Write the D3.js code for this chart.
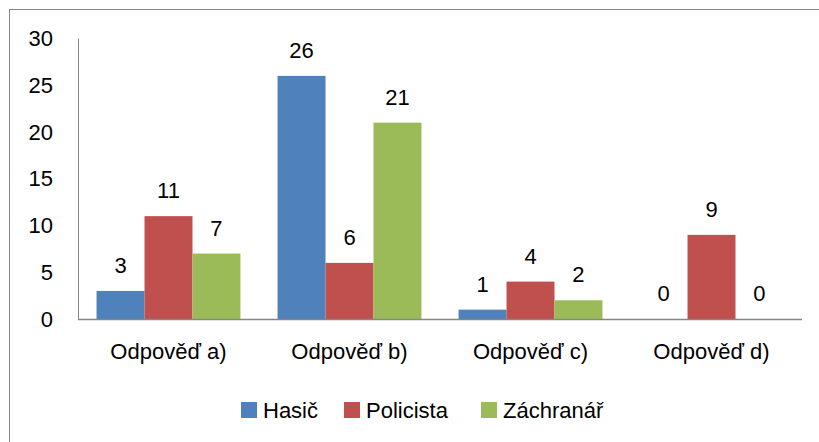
<!DOCTYPE html>
<html lang="cs">
<head>
  <meta charset="utf-8">
  <title>Odpovědi</title>
  <script src="https://d3js.org/d3.v7.min.js"></script>
  <style>
    body { margin: 0; background: #fff; }
    text { font-family: "Liberation Sans", Arial, sans-serif; font-size: 22px; fill: #000; }
  </style>
</head>
<body>
  <div id="chart"></div>
  <script>
    var categories = ["Odpověď a)", "Odpověď b)", "Odpověď c)", "Odpověď d)"];
    var series = ["Hasič", "Policista", "Záchranář"];
    var hasic = [3, 26, 1, 0];
    var policista = [11, 6, 4, 9];
    var zachranar = [7, 21, 2, 0];
    var yTicks = [0, 5, 10, 15, 20, 25, 30];
    var colors = ["#4F81BD", "#C0504D", "#9BBB59"];

    var values = [hasic, policista, zachranar];
    var w = 819, h = 442;
    var plotLeft = 78, plotRight = 802, plotTop = 38.5, plotBottom = 319;

    var svg = d3.select("#chart").append("svg")
      .attr("width", w).attr("height", h);

    // outer chart frame
    svg.append("rect")
      .attr("x", 9.5).attr("y", 9.5)
      .attr("width", 830).attr("height", 450)
      .attr("fill", "none").attr("stroke", "#868686");

    var x0 = d3.scaleBand().domain(categories).range([plotLeft, plotRight]).paddingInner(0.205).paddingOuter(0.1025);
    var x1 = d3.scaleBand().domain(series).range([0, x0.bandwidth()]);
    var y = d3.scaleLinear().domain([0, 30]).range([plotBottom, plotTop]);

    var rows = [];
    categories.forEach(function(c, i) {
      series.forEach(function(s, j) {
        rows.push({ cat: c, ser: s, v: values[j][i], color: colors[j] });
      });
    });

    svg.selectAll("rect.bar")
      .data(rows)
      .enter()
      .append("rect")
      .attr("class", "bar")
      .attr("x", function(d) { return x0(d.cat) + x1(d.ser); })
      .attr("y", function(d) { return y(d.v); })
      .attr("width", x1.bandwidth())
      .attr("height", function(d) { return plotBottom - y(d.v); })
      .attr("fill", function(d) { return d.color; });

    svg.selectAll("text.val")
      .data(rows)
      .enter()
      .append("text")
      .attr("class", "val")
      .attr("x", function(d) { return x0(d.cat) + x1(d.ser) + x1.bandwidth() / 2; })
      .attr("y", function(d) { return y(d.v) - 18; })
      .attr("text-anchor", "middle")
      .text(function(d) { return d.v; });

    // axes
    svg.append("line")
      .attr("x1", plotLeft + 0.5).attr("x2", plotLeft + 0.5)
      .attr("y1", plotTop).attr("y2", plotBottom)
      .attr("stroke", "#868686");
    svg.append("line")
      .attr("x1", plotLeft).attr("x2", plotRight)
      .attr("y1", plotBottom + 0.5).attr("y2", plotBottom + 0.5)
      .attr("stroke", "#868686").attr("stroke-width", 1.5);

    svg.selectAll("text.ytick")
      .data(yTicks)
      .enter()
      .append("text")
      .attr("class", "ytick")
      .attr("x", 53)
      .attr("y", function(d) { return y(d); })
      .attr("dy", "0.35em")
      .attr("text-anchor", "end")
      .text(function(d) { return d; });

    svg.selectAll("text.xtick")
      .data(categories)
      .enter()
      .append("text")
      .attr("class", "xtick")
      .attr("x", function(d) { return x0(d) + x0.bandwidth() / 2; })
      .attr("y", 359)
      .attr("text-anchor", "middle")
      .text(function(d) { return d; });

    // legend
    var legX = [241, 344, 481];
    var leg = svg.selectAll("g.leg")
      .data(series)
      .enter()
      .append("g")
      .attr("class", "leg")
      .attr("transform", function(d, i) { return "translate(" + legX[i] + ",402)"; });
    leg.append("rect")
      .attr("width", 16).attr("height", 16)
      .attr("fill", function(d, i) { return colors[i]; });
    leg.append("text")
      .attr("x", 22).attr("y", 16)
      .text(function(d) { return d; });
  </script>
</body>
</html>
